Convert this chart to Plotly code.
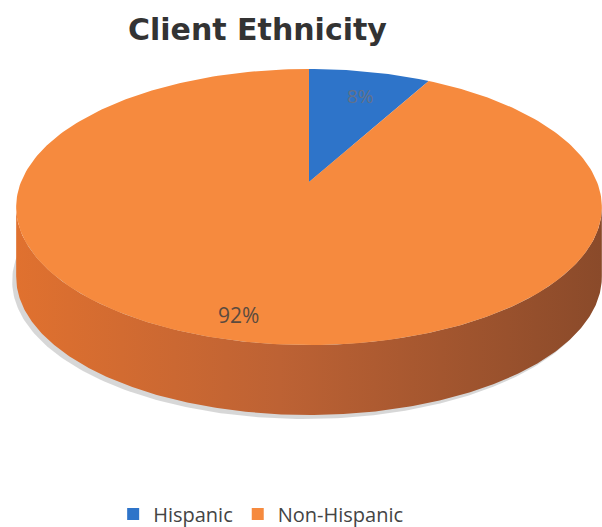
import numpy as np
import plotly.graph_objects as go

# ---- data ----
labels = ["Hispanic", "Non-Hispanic"]
values = [8, 92]
text_labels = ["8%", "92%"]
title_text = "Client Ethnicity"

# ---- style ----
top_colors = ["#2E74C9", "#F68A3E"]
side_colors = ["#E0712F", "#8A4A2A"]
label_colors = ["#62718a", "#5b4a3e"]
FONT = "Open Sans"

# perspective pie geometry (pixel space)
CX, CY = 309.0, 182.0
RX, RY = 288.0, 133.5
K = 0.181
DEPTH = 70.0


def proj(theta, r=1.0, dy=0.0):
    u = np.sin(theta) * r
    v = np.cos(theta) * r
    d = 1 + K * v
    return CX + RX * u / d, CY - RY * v / d + dy


fig = go.Figure()

# shadow
th = np.linspace(0, 2 * np.pi, 400)
sx, sy = proj(th, 1.0, DEPTH + 4)
fig.add_trace(go.Scatter(x=sx - 4, y=sy, fill="toself", mode="lines",
                         line=dict(width=0), fillcolor="rgba(110,110,110,0.28)",
                         hoverinfo="skip", showlegend=False))

# side (front half)
tx, ty = proj(th)
i_r = int(np.argmax(tx))
i_l = int(np.argmin(tx))
th_front = np.linspace(th[i_r], th[i_l], 300)
fx, fy = proj(th_front)
bx, by = proj(th_front[::-1], 1.0, DEPTH)
fig.add_trace(go.Scatter(
    x=np.concatenate([fx, bx]), y=np.concatenate([fy, by]),
    fill="toself", mode="lines", line=dict(width=0),
    fillgradient=dict(type="horizontal",
                      colorscale=[[0, side_colors[0]], [0.45, "#BD6234"], [1, side_colors[1]]]),
    hoverinfo="skip", showlegend=False))

# top face slices
total = sum(values)
cum = 0.0
for i, val in enumerate(values):
    a0 = 2 * np.pi * cum / total
    a1 = 2 * np.pi * (cum + val) / total
    cum += val
    arc = np.linspace(a0, a1, max(20, int(300 * val / total)))
    ax_, ay_ = proj(arc)
    px = np.concatenate([[CX], ax_, [CX]])
    py = np.concatenate([[CY], ay_, [CY]])
    fig.add_trace(go.Scatter(x=px, y=py, fill="toself", mode="lines",
                             line=dict(width=0), fillcolor=top_colors[i],
                             hoverinfo="skip", showlegend=False))

# legend entries
for i, lab in enumerate(labels):
    fig.add_trace(go.Scatter(x=[None], y=[None], mode="markers", name=lab,
                             marker=dict(symbol="square", size=12, color=top_colors[i])))

# data labels
label_pos = [(360, 96), (238, 315)]
label_sizes = [19, 21]
for i, t in enumerate(text_labels):
    fig.add_annotation(x=label_pos[i][0], y=label_pos[i][1], text=t, showarrow=False,
                       xanchor="center", yanchor="middle",
                       font=dict(family=FONT, size=label_sizes[i], color=label_colors[i]))

fig.add_annotation(x=257.5 / 602, y=1 - 29 / 527, xref="paper", yref="paper",
                   xanchor="center", yanchor="middle",
                   text="<b>" + title_text + "</b>", showarrow=False,
                   font=dict(family="DejaVu Sans", size=30, color="#333333"))

fig.update_layout(
    width=602, height=527,
    margin=dict(l=0, r=0, t=0, b=0, autoexpand=False),
    paper_bgcolor="white", plot_bgcolor="white",
    xaxis=dict(range=[0, 602], visible=False, fixedrange=True),
    yaxis=dict(range=[527, 0], visible=False, fixedrange=True),
    legend=dict(orientation="h", x=0.433, xanchor="center", y=1 - 514 / 527, yanchor="middle",
                font=dict(family=FONT, size=20, color="#444444"),
                itemsizing="constant", traceorder="normal", itemwidth=30,
                bgcolor="rgba(0,0,0,0)"),
    showlegend=True,
)

fig.write_html("out.html", config={"displayModeBar": False},
               post_script="document.body.style.margin='0';document.body.style.overflow='hidden';")
